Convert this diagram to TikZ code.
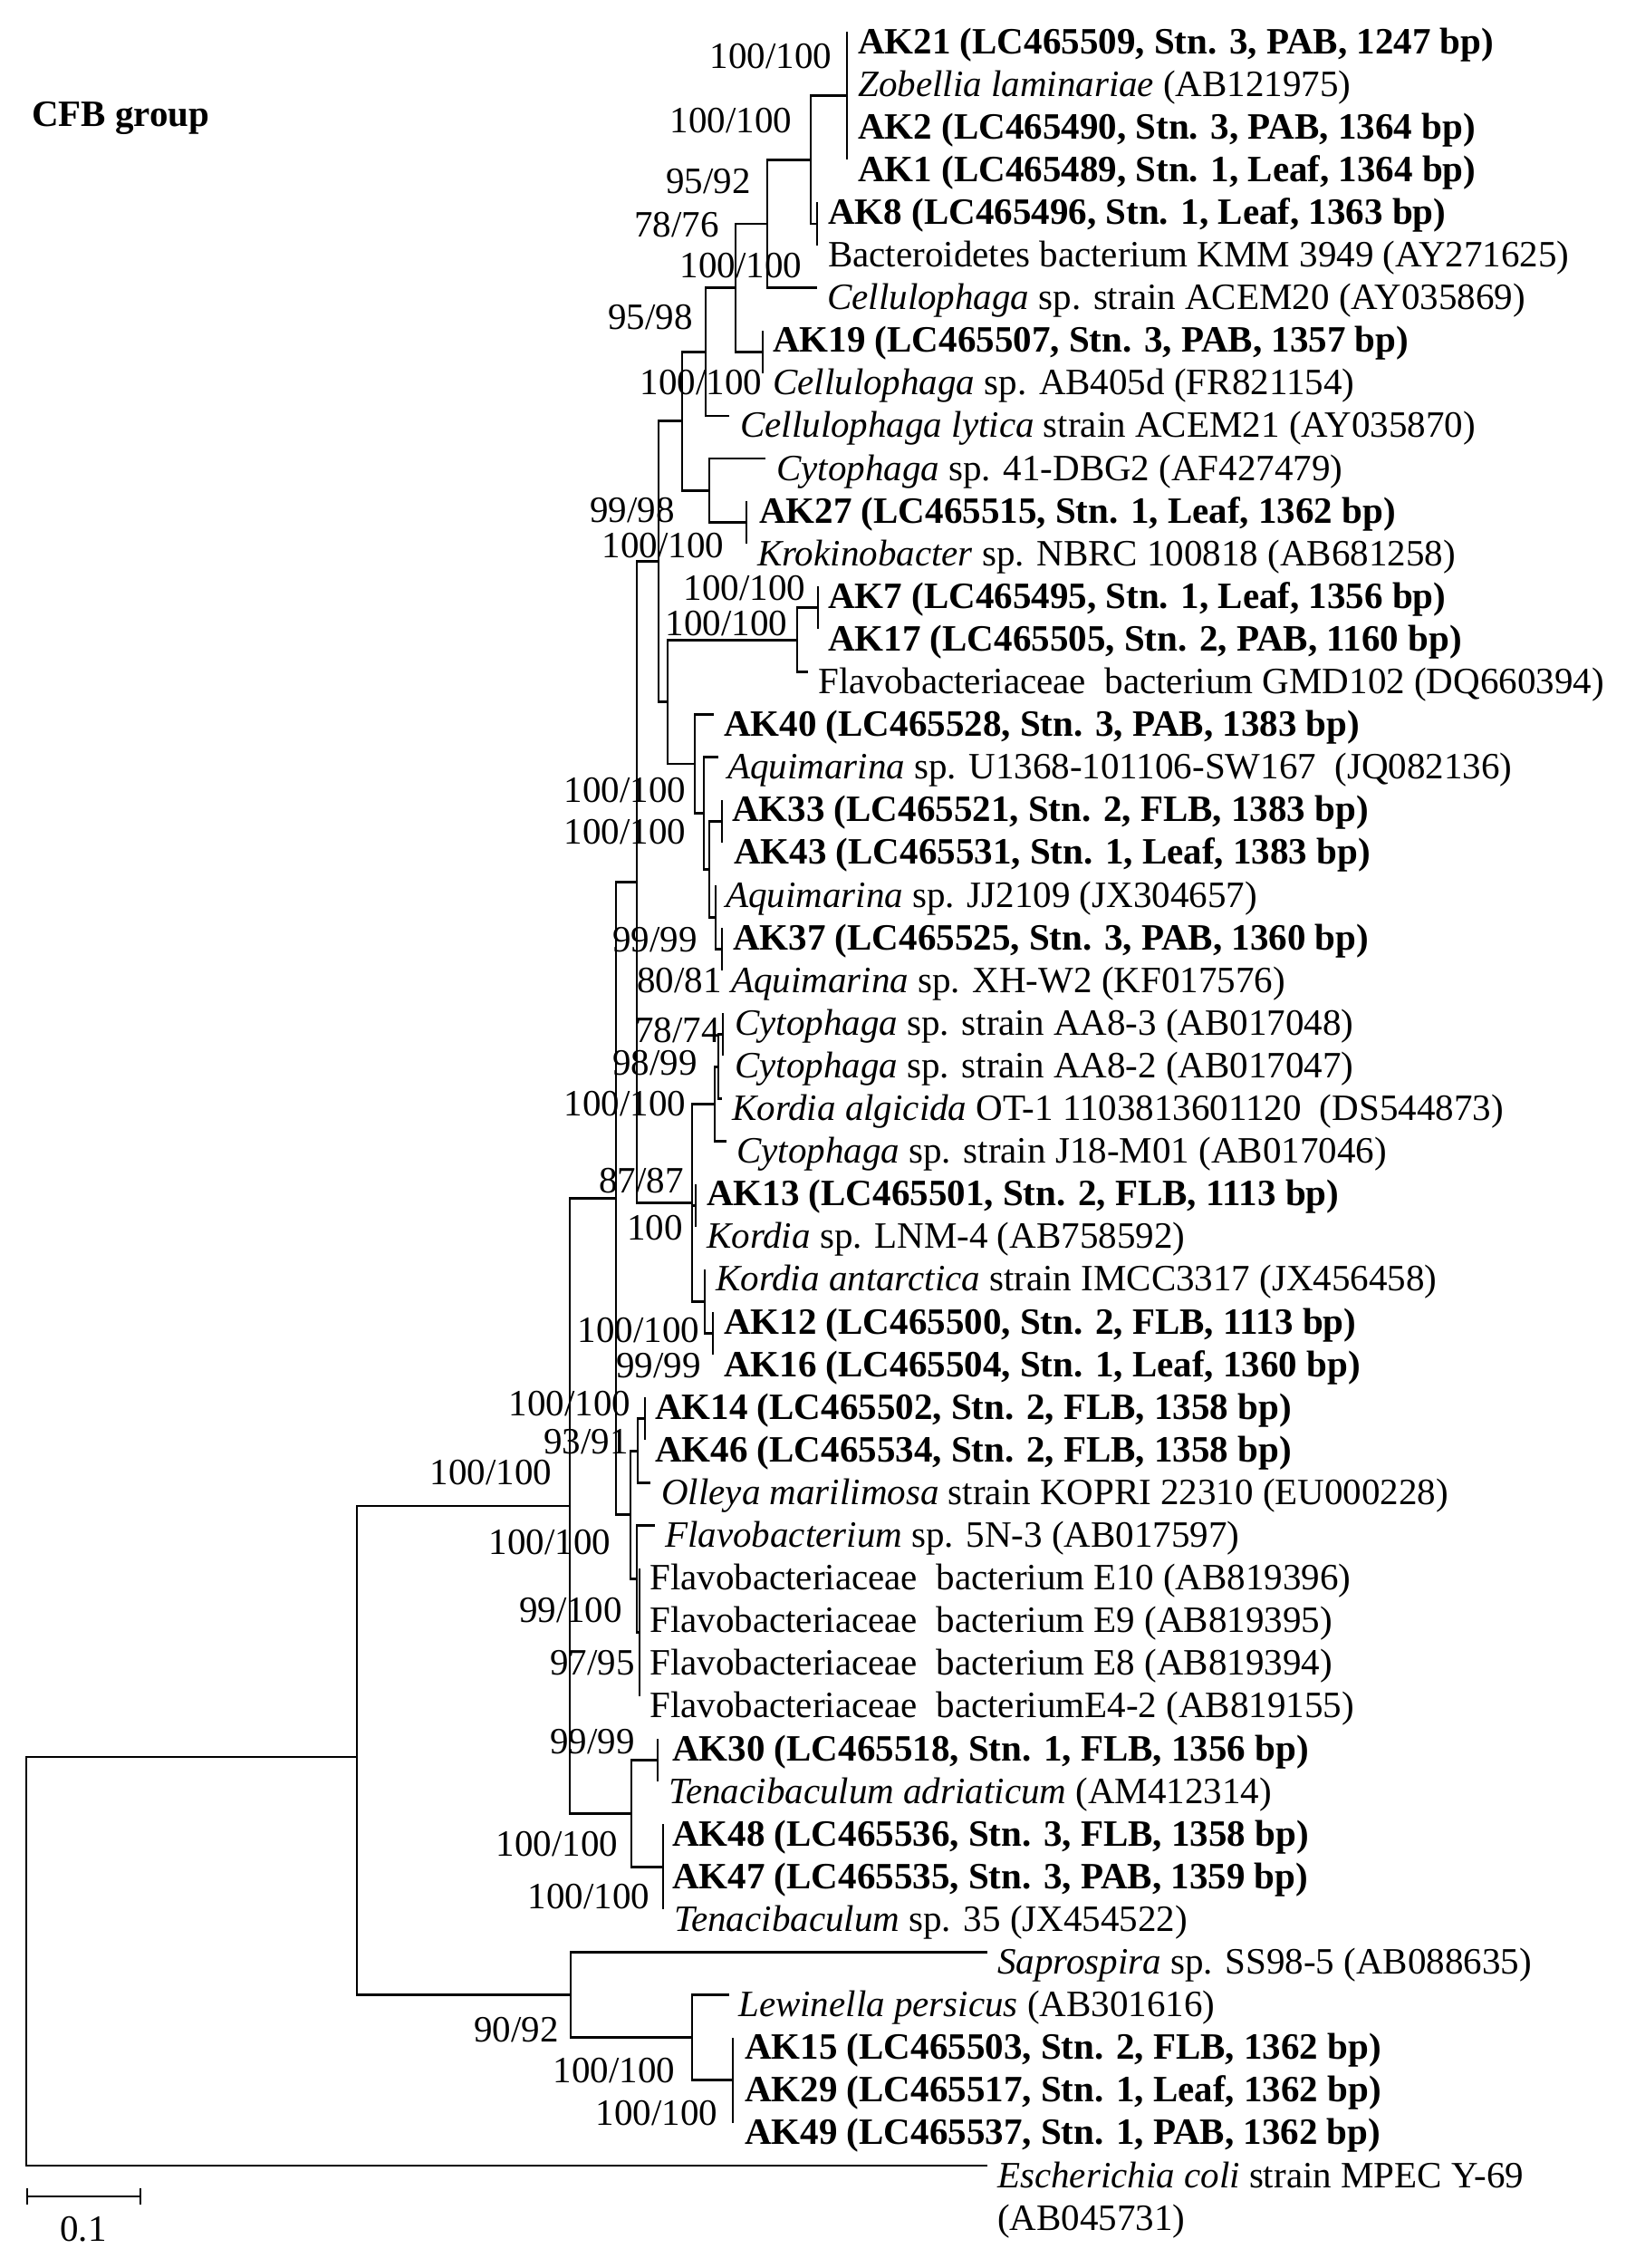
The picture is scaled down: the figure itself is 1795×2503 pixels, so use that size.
\documentclass[tikz,border=0pt]{standalone}
\usepackage{fontspec}
\setmainfont{Liberation Serif}
\def\ry#1{(35+(#1-1)*47.1)}
\begin{document}
\begin{tikzpicture}[x=1pt,y=-1pt,
  tree/.style={line width=2.8pt},
  leaf/.style={anchor=base west, inner sep=0pt, font=\fontsize{41}{47}\selectfont},
  bs/.style={inner sep=0pt, font=\fontsize{41}{47}\selectfont}]
\useasboundingbox[fill=white] (0,0) rectangle (1795,2503);
% ---- tips ----
\foreach \i/\x in {1/935,2/935,3/935,4/935,5/902,6/902,7/902,8/842,9/842,10/805,
  11/845,12/824,13/824,14/903,15/903,16/892,17/788,18/793,19/797,20/797,
  21/790,22/797,23/797,24/798,25/798,26/797,27/802,28/768,29/768,30/778,
  31/787,32/787,33/712,34/712,35/718,36/723,37/706,38/706,39/706,40/706,
  41/726,42/726,43/732,44/732,45/732,46/1090,47/805,48/809,49/809,50/809,51/1090}
  {\coordinate (t\i) at (\x,{\ry{\i}});}
% ---- internal nodes ----
\coordinate (P1) at (935,105.65);
\coordinate (P2) at (902,246.95);
\coordinate (A) at (895,176.3);
\coordinate (B) at (847,246.95);
\coordinate (P3) at (842,388.25);
\coordinate (C) at (812,317.6);
\coordinate (D) at (779,388.25);
\coordinate (P4) at (824,576.65);
\coordinate (F) at (783,541.3);
\coordinate (E) at (753,464.8);
\coordinate (P5) at (903,670.85);
\coordinate (I) at (880,706.2);
\coordinate (P6) at (797,906.35);
\coordinate (P7) at (797,1047.65);
\coordinate (M) at (790,1012.3);
\coordinate (L) at (783,959.3);
\coordinate (K) at (777,897.5);
\coordinate (J) at (767,843.05);
\coordinate (H) at (737,774.6);
\coordinate (G) at (727,619.7);
\coordinate (P8) at (798,1141.85);
\coordinate (Q) at (793,1177.2);
\coordinate (O) at (789,1218.4);
\coordinate (P9) at (768,1330.25);
\coordinate (P10) at (787,1471.55);
\coordinate (S) at (778,1436.2);
\coordinate (Rn) at (764,1327.3);
\coordinate (N) at (703,973.5);
\coordinate (P11) at (712,1565.75);
\coordinate (V) at (704,1601.1);
\coordinate (X) at (706,1801.25);
\coordinate (W) at (703,1742.4);
\coordinate (U) at (696,1671.75);
\coordinate (T) at (680,1322.6);
\coordinate (P12) at (726,1942.55);
\coordinate (P13) at (732,2060.3);
\coordinate (Yn) at (697,2001.4);
\coordinate (Fl) at (629,1662);
\coordinate (P14) at (809,2295.8);
\coordinate (Z) at (764,2248.7);
\coordinate (Sp) at (630,2201.6);
\coordinate (CFB) at (394,1939);
\coordinate (Root) at (29,2161);
% ---- edges ----
\foreach \p/\c in {P1/t1,P1/t2,P1/t3,P1/t4,A/P1,A/P2,P2/t5,P2/t6,B/A,B/t7,
  P3/t8,P3/t9,C/B,C/P3,D/C,D/t10,P4/t12,P4/t13,F/t11,F/P4,E/D,E/F,
  P5/t14,P5/t15,I/P5,I/t16,P6/t19,P6/t20,P7/t22,P7/t23,M/t21,M/P7,L/P6,L/M,
  K/t18,K/L,J/t17,J/K,H/I,H/J,G/E,G/H,P8/t24,P8/t25,Q/P8,Q/t26,O/Q,O/t27,
  P9/t28,P9/t29,P10/t31,P10/t32,S/t30,S/P10,Rn/O,Rn/P9,Rn/S,N/G,N/Rn,
  P11/t33,P11/t34,V/P11,V/t35,X/t37,X/t38,X/t39,X/t40,W/t36,W/X,U/V,U/W,
  T/N,T/U,P12/t41,P12/t42,P13/t43,P13/t44,P13/t45,Yn/P12,Yn/P13,Fl/T,Fl/Yn,
  P14/t48,P14/t49,P14/t50,Z/t47,Z/P14,Sp/t46,Sp/Z,CFB/Fl,CFB/Sp,Root/CFB,Root/t51}
  {\draw[tree] (\p) |- (\c);}
% ---- title ----
\node[leaf] (title) at (35,{125+14}) {\textbf{CFB group}};
% ---- leaves ----
\node[leaf] (l1) at (947,{\ry{1}+24}) {\textbf{AK21 (LC465509, Stn. 3, PAB, 1247 bp)}};
\node[leaf] (l2) at (947,{\ry{2}+24}) {\textit{Zobellia laminariae} (AB121975)};
\node[leaf] (l3) at (947,{\ry{3}+24}) {\textbf{AK2 (LC465490, Stn. 3, PAB, 1364 bp)}};
\node[leaf] (l4) at (947,{\ry{4}+24}) {\textbf{AK1 (LC465489, Stn. 1, Leaf, 1364 bp)}};
\node[leaf] (l5) at (914,{\ry{5}+24}) {\textbf{AK8 (LC465496, Stn. 1, Leaf, 1363 bp)}};
\node[leaf] (l6) at (914,{\ry{6}+24}) {Bacteroidetes bacterium KMM 3949 (AY271625)};
\node[leaf] (l7) at (913,{\ry{7}+24}) {\textit{Cellulophaga} sp. strain ACEM20 (AY035869)};
\node[leaf] (l8) at (853,{\ry{8}+24}) {\textbf{AK19 (LC465507, Stn. 3, PAB, 1357 bp)}};
\node[leaf] (l9) at (853,{\ry{9}+24}) {\textit{Cellulophaga} sp. AB405d (FR821154)};
\node[leaf] (l10) at (817,{\ry{10}+24}) {\textit{Cellulophaga lytica} strain ACEM21 (AY035870)};
\node[leaf] (l11) at (857,{\ry{11}+24}) {\textit{Cytophaga} sp. 41-DBG2 (AF427479)};
\node[leaf] (l12) at (838,{\ry{12}+24}) {\textbf{AK27 (LC465515, Stn. 1, Leaf, 1362 bp)}};
\node[leaf] (l13) at (836,{\ry{13}+24}) {\textit{Krokinobacter} sp. NBRC 100818 (AB681258)};
\node[leaf] (l14) at (914,{\ry{14}+24}) {\textbf{AK7 (LC465495, Stn. 1, Leaf, 1356 bp)}};
\node[leaf] (l15) at (914,{\ry{15}+24}) {\textbf{AK17 (LC465505, Stn. 2, PAB, 1160 bp)}};
\node[leaf] (l16) at (903,{\ry{16}+24}) {Flavobacteriaceae\ \ bacterium GMD102 (DQ660394)};
\node[leaf] (l17) at (799,{\ry{17}+24}) {\textbf{AK40 (LC465528, Stn. 3, PAB, 1383 bp)}};
\node[leaf] (l18) at (803,{\ry{18}+24}) {\textit{Aquimarina} sp. U1368-101106-SW167\ \ (JQ082136)};
\node[leaf] (l19) at (808,{\ry{19}+24}) {\textbf{AK33 (LC465521, Stn. 2, FLB, 1383 bp)}};
\node[leaf] (l20) at (810,{\ry{20}+24}) {\textbf{AK43 (LC465531, Stn. 1, Leaf, 1383 bp)}};
\node[leaf] (l21) at (801,{\ry{21}+24}) {\textit{Aquimarina} sp. JJ2109 (JX304657)};
\node[leaf] (l22) at (809,{\ry{22}+24}) {\textbf{AK37 (LC465525, Stn. 3, PAB, 1360 bp)}};
\node[leaf] (l23) at (807,{\ry{23}+24}) {\textit{Aquimarina} sp. XH-W2 (KF017576)};
\node[leaf] (l24) at (811,{\ry{24}+24}) {\textit{Cytophaga} sp. strain AA8-3 (AB017048)};
\node[leaf] (l25) at (811,{\ry{25}+24}) {\textit{Cytophaga} sp. strain AA8-2 (AB017047)};
\node[leaf] (l26) at (808,{\ry{26}+24}) {\textit{Kordia algicida} OT-1 1103813601120\ \ (DS544873)};
\node[leaf] (l27) at (813,{\ry{27}+24}) {\textit{Cytophaga} sp. strain J18-M01 (AB017046)};
\node[leaf] (l28) at (780,{\ry{28}+24}) {\textbf{AK13 (LC465501, Stn. 2, FLB, 1113 bp)}};
\node[leaf] (l29) at (780,{\ry{29}+24}) {\textit{Kordia} sp. LNM-4 (AB758592)};
\node[leaf] (l30) at (790,{\ry{30}+24}) {\textit{Kordia antarctica} strain IMCC3317 (JX456458)};
\node[leaf] (l31) at (799,{\ry{31}+24}) {\textbf{AK12 (LC465500, Stn. 2, FLB, 1113 bp)}};
\node[leaf] (l32) at (799,{\ry{32}+24}) {\textbf{AK16 (LC465504, Stn. 1, Leaf, 1360 bp)}};
\node[leaf] (l33) at (723,{\ry{33}+24}) {\textbf{AK14 (LC465502, Stn. 2, FLB, 1358 bp)}};
\node[leaf] (l34) at (723,{\ry{34}+24}) {\textbf{AK46 (LC465534, Stn. 2, FLB, 1358 bp)}};
\node[leaf] (l35) at (730,{\ry{35}+24}) {\textit{Olleya marilimosa} strain KOPRI 22310 (EU000228)};
\node[leaf] (l36) at (734,{\ry{36}+24}) {\textit{Flavobacterium} sp. 5N-3 (AB017597)};
\node[leaf] (l37) at (717,{\ry{37}+24}) {Flavobacteriaceae\ \ bacterium E10 (AB819396)};
\node[leaf] (l38) at (717,{\ry{38}+24}) {Flavobacteriaceae\ \ bacterium E9 (AB819395)};
\node[leaf] (l39) at (717,{\ry{39}+24}) {Flavobacteriaceae\ \ bacterium E8 (AB819394)};
\node[leaf] (l40) at (717,{\ry{40}+24}) {Flavobacteriaceae\ \ bacteriumE4-2 (AB819155)};
\node[leaf] (l41) at (742,{\ry{41}+24}) {\textbf{AK30 (LC465518, Stn. 1, FLB, 1356 bp)}};
\node[leaf] (l42) at (738,{\ry{42}+24}) {\textit{Tenacibaculum adriaticum} (AM412314)};
\node[leaf] (l43) at (742,{\ry{43}+24}) {\textbf{AK48 (LC465536, Stn. 3, FLB, 1358 bp)}};
\node[leaf] (l44) at (742,{\ry{44}+24}) {\textbf{AK47 (LC465535, Stn. 3, PAB, 1359 bp)}};
\node[leaf] (l45) at (744,{\ry{45}+24}) {\textit{Tenacibaculum} sp. 35 (JX454522)};
\node[leaf] (l46) at (1101,{\ry{46}+24}) {\textit{Saprospira} sp. SS98-5 (AB088635)};
\node[leaf] (l47) at (815,{\ry{47}+24}) {\textit{Lewinella persicus} (AB301616)};
\node[leaf] (l48) at (822,{\ry{48}+24}) {\textbf{AK15 (LC465503, Stn. 2, FLB, 1362 bp)}};
\node[leaf] (l49) at (822,{\ry{49}+24}) {\textbf{AK29 (LC465517, Stn. 1, Leaf, 1362 bp)}};
\node[leaf] (l50) at (822,{\ry{50}+24}) {\textbf{AK49 (LC465537, Stn. 1, PAB, 1362 bp)}};
\node[leaf] (l51) at (1101,{\ry{51}+24}) {\textit{Escherichia coli} strain MPEC Y-69};
\node[leaf] (l51b) at (1101,{\ry{52}+24}) {(AB045731)};
% ---- support values ----
\foreach \x/\y/\t in {851/62/100\slash100, 807/133/100\slash100, 782/200/95\slash92,
  747/248/78\slash76, 818/293/100\slash100, 718/350/95\slash98, 774/422/100\slash100,
  698/563/99\slash98, 732/602/100\slash100, 822/649/100\slash100, 802/688/100\slash100,
  690/872/100\slash100, 690/918/100\slash100, 723/1037/99\slash99, 750/1082/80\slash81,
  748/1137/78\slash74, 723/1173/98\slash99, 690/1218/100\slash100, 708/1303/87\slash87,
  723/1355/100, 705/1468/100\slash100, 727/1507/99\slash99, 629/1549/100\slash100,
  647/1591/93\slash91, 542/1625/100\slash100, 607/1702/100\slash100, 630/1777/99\slash100,
  654/1835/97\slash95, 654/1922/99\slash99, 615/2035/100\slash100, 650/2093/100\slash100,
  570/2240/90\slash92, 678/2285/100\slash100, 725/2332/100\slash100}
  {\node[bs] at (\x,\y) {\t};}
% ---- scale bar ----
\coordinate (sb1) at (30,2424);
\coordinate (sb2) at (155,2424);
\draw[line width=2.8pt] (sb1) -- (sb2);
\draw[line width=2pt] ([yshift=9pt]sb1) -- ([yshift=-9pt]sb1);
\draw[line width=2pt] ([yshift=9pt]sb2) -- ([yshift=-9pt]sb2);
\node[bs] (sbl) at (92,2460) {0.1};
\end{tikzpicture}
\end{document}
